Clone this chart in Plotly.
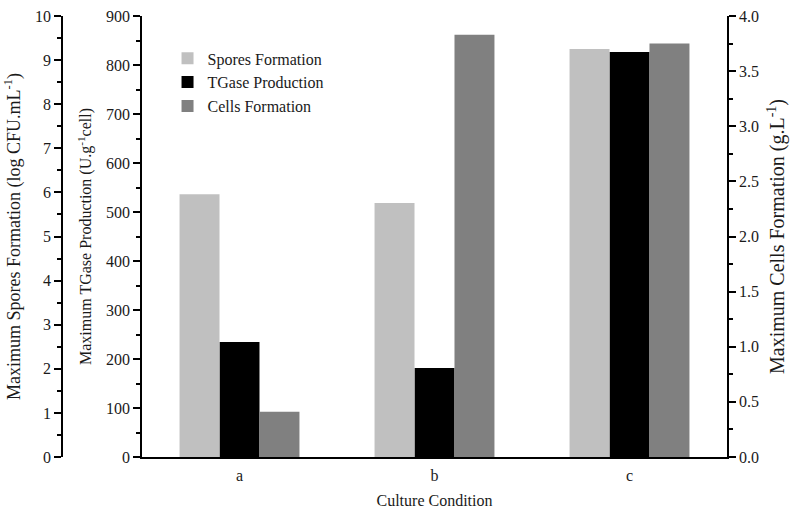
import plotly.graph_objects as go

categories = ["a", "b", "c"]
spores = [5.96, 5.76, 9.25]
tgase = [234.7, 181.6, 826.5]
cells = [0.41, 3.83, 3.75]

W, H = 794, 511
FONT = "Liberation Serif"
TXT = "#1a1a1a"

x0, x1 = 142 / W, 727 / W
y0, y1 = 1 - 457 / H, 1 - 16 / H

bw = 0.205
fig = go.Figure()
fig.add_trace(go.Bar(x=categories, y=spores, name="Spores Formation", yaxis="y2",
                     marker=dict(color="#c0c0c0", line=dict(width=0)), width=bw, offset=-1.5 * bw))
fig.add_trace(go.Bar(x=categories, y=tgase, name="TGase Production", yaxis="y",
                     marker=dict(color="#000000", line=dict(width=0)), width=bw, offset=-0.5 * bw))
fig.add_trace(go.Bar(x=categories, y=cells, name="Cells Formation", yaxis="y3",
                     marker=dict(color="#808080", line=dict(width=0)), width=bw, offset=0.5 * bw))

tickfont = dict(family=FONT, size=16, color=TXT)


def tfont(s):
    return dict(family=FONT, size=s, color=TXT)


common = dict(showgrid=False, zeroline=False, showline=True, linecolor="black", linewidth=1.5,
              ticks="outside", ticklen=7, tickwidth=1.5, tickcolor="black", tickfont=tickfont,
              automargin=False)
minor_common = dict(ticks="outside", ticklen=4, tickwidth=1.5, tickcolor="black")

fig.update_layout(
    width=W, height=H,
    margin=dict(l=0, r=0, t=0, b=0),
    paper_bgcolor="white", plot_bgcolor="white",
    font=dict(family=FONT, size=16, color=TXT),
    showlegend=True,
    legend=dict(x=0.211, y=0.919, xanchor="left", yanchor="top", bgcolor="rgba(0,0,0,0)",
                font=tfont(16), tracegroupgap=0, itemsizing="constant"),
    xaxis=dict(domain=[x0, x1], showgrid=False, zeroline=False, showline=True, linecolor="black",
               linewidth=1.5, ticks="", tickfont=tickfont, automargin=False, ticklabelstandoff=3,
               title=dict(text="Culture Condition", font=tfont(16), standoff=12)),
    yaxis=dict(domain=[y0, y1], range=[0, 900], dtick=100, side="left",
               minor=dict(dtick=50, **minor_common),
               title=dict(text="Maximum TGase Production (U.g<sup>-1</sup>cell)", font=tfont(16), standoff=10),
               **common),
    yaxis2=dict(range=[0, 10], dtick=1, side="left", overlaying="y", anchor="free", position=62 / W,
                minor=dict(dtick=0.5, **minor_common),
                title=dict(text="Maximum Spores Formation (log CFU.mL<sup>-1</sup>)", font=tfont(18), standoff=9),
                **common),
    yaxis3=dict(range=[0, 4.0], dtick=0.5, tickformat=".1f", side="right", overlaying="y", anchor="x",
                minor=dict(dtick=0.25, **minor_common),
                title=dict(text="Maximum Cells Formation (g.L<sup>-1</sup>)", font=tfont(20), standoff=12),
                **common),
)

fig.write_html("out.html")
